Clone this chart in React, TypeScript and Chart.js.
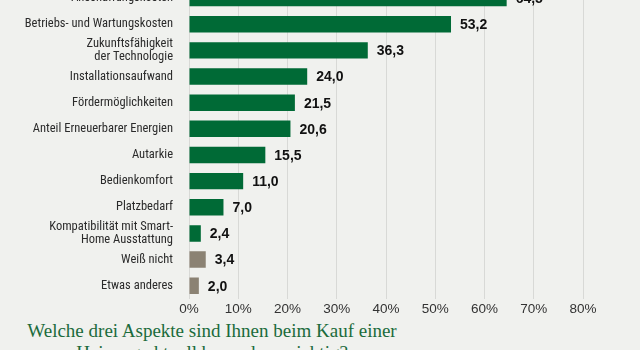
import React, { useEffect, useRef } from "react";
import { Chart, registerables } from "chart.js";

Chart.register(...registerables);

const categories: (string | string[])[] = [
  "Anschaffungskosten",
  "Betriebs- und Wartungskosten",
  ["Zukunftsfähigkeit", "der Technologie"],
  "Installationsaufwand",
  "Fördermöglichkeiten",
  "Anteil Erneuerbarer Energien",
  "Autarkie",
  "Bedienkomfort",
  "Platzbedarf",
  ["Kompatibilität mit Smart-", "Home Ausstattung"],
  "Weiß nicht",
  "Etwas anderes",
];
const values = [64.5, 53.2, 36.3, 24.0, 21.5, 20.6, 15.5, 11.0, 7.0, 2.4, 3.4, 2.0];
const seriesKinds = ["a", "a", "a", "a", "a", "a", "a", "a", "a", "a", "b", "b"];
const xTickValues = [0, 10, 20, 30, 40, 50, 60, 70, 80];
const titleLines = [
  "Welche drei Aspekte sind Ihnen beim Kauf einer",
  "Heizung aktuell besonders wichtig?",
];

const GREEN = "#006a36";
const GRAY = "#8b8273";
const BG = "#f0f1ee";
const LABEL_FONT = "'Liberation Sans Narrow', 'Roboto Condensed', 'Liberation Sans', sans-serif";

const valueLabels = {
  id: "valueLabels",
  afterDatasetsDraw(chart: any) {
    const ctx = chart.ctx;
    const meta = chart.getDatasetMeta(0);
    ctx.save();
    ctx.font = "bold 14px 'Liberation Sans', sans-serif";
    ctx.fillStyle = "#111111";
    ctx.textAlign = "left";
    ctx.textBaseline = "middle";
    meta.data.forEach((bar: any, i: number) => {
      const txt = values[i].toFixed(1).replace(".", ",");
      ctx.fillText(txt, bar.x + 9, bar.y + 1);
    });
    ctx.restore();
  },
};

export default function App() {
  const ref = useRef<HTMLCanvasElement | null>(null);

  useEffect(() => {
    if (!ref.current) return;
    const chart = new Chart(ref.current, {
      type: "bar",
      data: {
        labels: categories,
        datasets: [
          {
            data: values,
            backgroundColor: seriesKinds.map((k) => (k === "a" ? GREEN : GRAY)),
            borderWidth: 0,
            barPercentage: 0.63,
            categoryPercentage: 1,
          },
        ],
      },
      options: {
        indexAxis: "y",
        responsive: false,
        animation: false,
        layout: { padding: { top: 15, bottom: 1, left: 0, right: 57 } },
        plugins: {
          legend: { display: false },
          tooltip: { enabled: false },
          title: { display: false },
        },
        scales: {
          x: {
            min: 0,
            max: 80,
            afterBuildTicks: (scale: any) => {
              scale.ticks = xTickValues.map((v) => ({ value: v }));
            },
            grid: { color: "#d8d9d6", lineWidth: 1, drawTicks: false },
            border: { display: false },
            ticks: {
              padding: 2,
              color: "#333333",
              font: { family: "'Liberation Sans', sans-serif", size: 13.5 },
              callback: (v: any) => v + "%",
            },
          },
          y: {
            grid: { display: false },
            border: { display: false },
            afterFit: (scale: any) => {
              scale.width = 189;
            },
            ticks: {
              padding: 8,
              color: "#2b2b2b",
              autoSkip: false,
              font: { family: LABEL_FONT, size: 12.5, lineHeight: 1.1 },
            },
          },
        },
      },
      plugins: [valueLabels],
    });
    return () => chart.destroy();
  }, []);

  return (
    <div
      style={{
        position: "fixed",
        left: 0,
        top: 0,
        width: 640,
        height: 350,
        background: BG,
        overflow: "hidden",
      }}
    >
      <div style={{ position: "absolute", left: 0, top: -30, width: 640, height: 350 }}>
        <canvas ref={ref} width={640} height={350} style={{ width: 640, height: 350, display: "block" }} />
      </div>
      <div
        style={{
          position: "absolute",
          left: 2,
          top: 320,
          width: 420,
          textAlign: "center",
          fontFamily: "'Liberation Serif', 'DejaVu Serif', serif",
          fontSize: 19,
          lineHeight: "22px",
          color: "#1b6b3c",
        }}
      >
        {titleLines.map((l, i) => (
          <div key={i}>{l}</div>
        ))}
      </div>
    </div>
  );
}
